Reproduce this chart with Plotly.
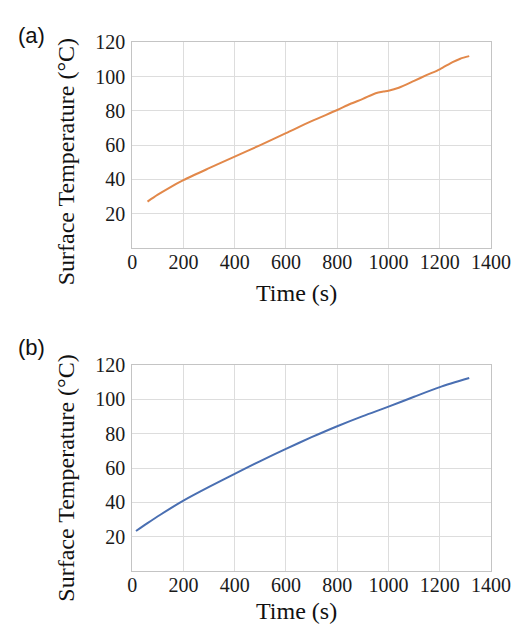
import plotly.graph_objects as go

# Panel (a): measured surface temperature
time_a = [60, 100, 150, 200, 300, 400, 500, 600, 700, 800, 850, 900, 950,
          980, 1000, 1040, 1100, 1150, 1200, 1250, 1280, 1315]
temp_a = [27.0, 31.0, 35.5, 39.5, 46.5, 53.3, 60.0, 67.0, 74.0, 80.5, 84.0,
          87.0, 90.3, 91.3, 91.8, 93.5, 97.5, 101.0, 104.3, 108.5, 110.5, 112.0]

# Panel (b): simulated surface temperature
time_b = [15, 60, 110, 200, 300, 400, 500, 600, 700, 800, 900, 1000, 1100, 1200, 1315]
temp_b = [23.3, 27.9, 32.8, 41.0, 49.0, 56.6, 64.1, 71.2, 78.0, 84.4, 90.3, 95.8,
          101.6, 107.2, 112.5]

x_ticks = [0, 200, 400, 600, 800, 1000, 1200, 1400]
y_ticks = [20, 40, 60, 80, 100, 120]
panel_labels = ["(a)", "(b)"]
x_title = "Time (s)"
y_title = "Surface Temperature (°C)"

W, H = 532, 626
SERIF = "Liberation Serif"
SANS = "Liberation Sans"

fig = go.Figure()
fig.add_trace(go.Scatter(x=time_a, y=temp_a, mode="lines", xaxis="x", yaxis="y",
                         line=dict(color="#E2884A", width=2, shape="spline", smoothing=0.8),
                         showlegend=False, hoverinfo="skip"))
fig.add_trace(go.Scatter(x=time_b, y=temp_b, mode="lines", xaxis="x2", yaxis="y2",
                         line=dict(color="#4A6FB2", width=2, shape="spline", smoothing=0.8),
                         showlegend=False, hoverinfo="skip"))

def px_x(p):
    return p / W

def px_y(p):
    return 1 - p / H

xdom = [px_x(133.4), px_x(510.0)]
dom_a = [px_y(241.0), px_y(32.0)]
dom_b = [px_y(570.0), px_y(360.5)]

axis_common = dict(showline=True, mirror=True, linecolor="#c4c4c4", linewidth=1,
                   showgrid=True, gridcolor="#dddddd", gridwidth=1, zeroline=False,
                   ticks="", tickfont=dict(family=SERIF, size=20, color="#1a1a1a"))

fig.update_layout(
    width=W, height=H,
    margin=dict(l=0, r=0, t=0, b=0),
    paper_bgcolor="white", plot_bgcolor="white",
    xaxis=dict(domain=xdom, range=[0, 1400], tickvals=x_ticks, anchor="y",
               ticklabelstandoff=-4, **axis_common),
    yaxis=dict(domain=dom_a, range=[0, 120], tickvals=y_ticks, anchor="x",
               ticklabelstandoff=2, **axis_common),
    xaxis2=dict(domain=xdom, range=[0, 1400], tickvals=x_ticks, anchor="y2",
                ticklabelstandoff=-4, **axis_common),
    yaxis2=dict(domain=dom_b, range=[0, 120], tickvals=y_ticks, anchor="x2",
                ticklabelstandoff=2, **axis_common),
)

# Axis titles and panel labels, placed in page pixels
texts = [
    (x_title, 306, 287, 0, SERIF, 24),
    (x_title, 306, 611, 0, SERIF, 24),
    (y_title, 64, 153, -90, SERIF, 24),
    (y_title, 64, 475, -90, SERIF, 24),
    (panel_labels[0], 28, 25, 0, SANS, 22),
    (panel_labels[1], 28, 343, 0, SANS, 22),
]
for txt, x, y, ang, fam, size in texts:
    fig.add_annotation(text=txt, x=px_x(x), y=px_y(y), xref="paper", yref="paper",
                       xanchor="center", yanchor="middle", showarrow=False,
                       textangle=ang, font=dict(family=fam, size=size, color="#111111"))

fig.write_html("out.html")
